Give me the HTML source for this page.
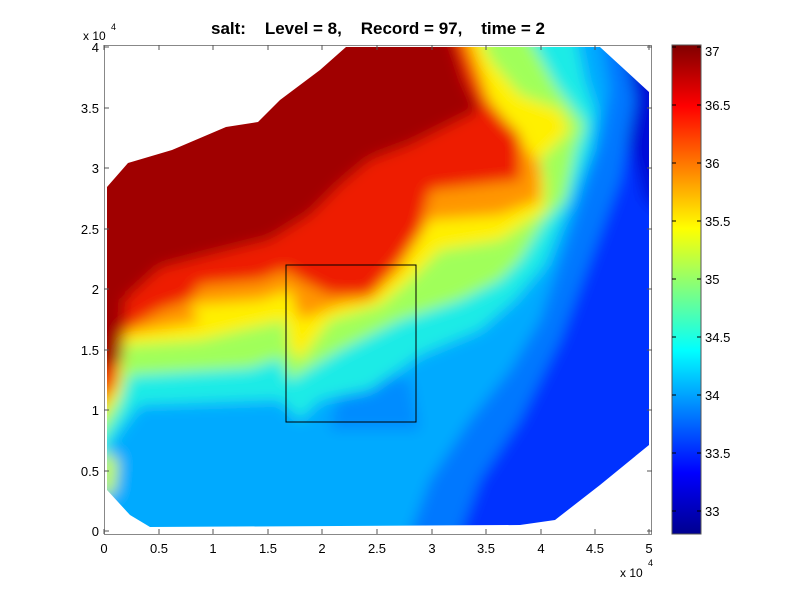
<!DOCTYPE html>
<html><head><meta charset="utf-8"><style>
body{margin:0;background:#fff}
svg{display:block;font-family:"Liberation Sans",sans-serif}
</style></head><body>
<svg width="800" height="600" viewBox="0 0 800 600" xmlns="http://www.w3.org/2000/svg">
<defs>
<clipPath id="dom"><polygon points="107,187 128,163 172,150 226,127 258,122 280,100 300,85 320,70 346,47 600,47 649,92 649,445 600,485 555,520 520,525 150,527 130,515 107,490"/></clipPath>
<filter id="bl" x="-10%" y="-10%" width="120%" height="120%"><feGaussianBlur stdDeviation="7"/></filter>
<linearGradient id="jet" x1="0" y1="1" x2="0" y2="0">
<stop offset="0" stop-color="rgb(0,0,143)"/><stop offset="0.125" stop-color="rgb(0,0,255)"/>
<stop offset="0.375" stop-color="rgb(0,255,255)"/><stop offset="0.625" stop-color="rgb(255,255,0)"/>
<stop offset="0.875" stop-color="rgb(255,0,0)"/><stop offset="1" stop-color="rgb(128,0,0)"/>
</linearGradient>
</defs>
<g clip-path="url(#dom)">
<g filter="url(#bl)">
<rect x="90" y="30" width="580" height="520" fill="rgb(0,50,255)"/>
<polygon fill="rgb(0,15,215)" points="610,30 670,30 670,220 645,200 625,130"/>
<polygon fill="rgb(0,120,255)" points="80,560 450,560 480,480 520,420 560,340 590,260 620,180 635,100 620,30 80,0"/>
<polygon fill="rgb(0,170,255)" points="80,560 400,560 430,480 470,420 510,370 540,320 560,260 580,200 600,140 610,90 600,30 80,0"/>
<polygon fill="rgb(0,140,255)" points="330,430 340,385 380,375 410,380 420,430"/>
<polygon fill="rgb(30,235,230)" points="80,480 100,460 120,430 140,405 280,400 300,420 320,400 370,390 420,355 480,330 515,300 545,265 570,200 590,150 595,110 585,80 575,30 80,0"/>
<polygon fill="rgb(160,255,90)" points="80,460 100,440 118,410 130,375 250,368 280,358 290,380 340,350 400,320 460,300 500,280 520,260 545,220 565,200 575,150 585,125 555,85 525,30 80,0"/>
<polygon fill="rgb(255,240,0)" points="80,430 100,420 118,395 125,345 200,340 240,330 285,320 290,350 300,360 330,320 380,305 410,280 440,250 500,240 545,210 545,180 540,160 570,130 560,110 520,95 490,60 478,30 80,0"/>
<polygon fill="rgb(255,150,0)" points="80,420 100,410 118,385 122,335 200,322 190,305 260,300 290,290 300,320 340,305 370,300 400,270 430,220 500,215 540,200 540,165 520,140 490,100 468,30 80,0"/>
<polygon fill="rgb(238,30,0)" points="80,410 100,400 115,380 125,330 160,310 190,300 200,285 260,280 285,270 300,280 330,295 370,295 400,260 420,230 430,190 520,180 520,135 485,100 458,30 80,0"/>
<polygon fill="rgb(160,0,0)" points="80,380 100,370 122,360 125,300 160,268 210,255 270,240 310,215 340,185 370,160 410,145 450,125 480,110 465,80 450,30 80,0"/>
<polygon fill="rgb(200,255,50)" points="100,500 115,490 118,460 100,450"/>
</g>
</g>
<rect x="286" y="265" width="130" height="157" fill="none" stroke="#000" stroke-width="1"/>
<rect x="104.5" y="45.5" width="547" height="489" fill="none" stroke="#888" stroke-width="1"/>
<g stroke="#555" stroke-width="1">
<path d="M104,531h5M104,471h5M104,410h5M104,350h5M104,289h5M104,229h5M104,168h5M104,108h5M104,47h5"/>
<path d="M652,531h-5M652,471h-5M652,410h-5M652,350h-5M652,289h-5M652,229h-5M652,168h-5M652,108h-5M652,47h-5"/>
<path d="M104,534v-5M159,534v-5M213,534v-5M268,534v-5M322,534v-5M377,534v-5M432,534v-5M486,534v-5M541,534v-5M595,534v-5M649,534v-5"/>
<path d="M104,45v5M159,45v5M213,45v5M268,45v5M322,45v5M377,45v5M432,45v5M486,45v5M541,45v5M595,45v5M649,45v5"/>
</g>
<g font-size="13" fill="#000" text-anchor="end">
<text x="99" y="536">0</text><text x="99" y="476">0.5</text><text x="99" y="415">1</text><text x="99" y="355">1.5</text><text x="99" y="294">2</text><text x="99" y="234">2.5</text><text x="99" y="173">3</text><text x="99" y="113">3.5</text><text x="99" y="52">4</text>
</g>
<g font-size="13" fill="#000" text-anchor="middle">
<text x="104" y="553">0</text><text x="159" y="553">0.5</text><text x="213" y="553">1</text><text x="268" y="553">1.5</text><text x="322" y="553">2</text><text x="377" y="553">2.5</text><text x="432" y="553">3</text><text x="486" y="553">3.5</text><text x="541" y="553">4</text><text x="595" y="553">4.5</text><text x="649" y="553">5</text>
</g>
<text x="83" y="40" font-size="12">x 10</text><text x="111" y="30" font-size="9">4</text>
<text x="620" y="577" font-size="12">x 10</text><text x="648" y="566" font-size="9">4</text>
<text x="378" y="34" font-size="17" font-weight="bold" text-anchor="middle" xml:space="preserve">salt:    Level = 8,    Record = 97,    time = 2</text>
<rect x="672" y="45" width="29" height="489" fill="url(#jet)" stroke="#555" stroke-width="1"/>
<g stroke="#000" stroke-width="1">
<path d="M672,511h4M672,453h4M672,395h4M672,337h4M672,279h4M672,221h4M672,163h4M672,105h4M672,47h4"/>
<path d="M701,511h-4M701,453h-4M701,395h-4M701,337h-4M701,279h-4M701,221h-4M701,163h-4M701,105h-4M701,47h-4"/>
</g>
<g font-size="13" fill="#000">
<text x="705" y="516">33</text><text x="705" y="458">33.5</text><text x="705" y="400">34</text><text x="705" y="342">34.5</text><text x="705" y="284">35</text><text x="705" y="226">35.5</text><text x="705" y="168">36</text><text x="705" y="110">36.5</text><text x="705" y="56">37</text>
</g>
</svg>
</body></html>
